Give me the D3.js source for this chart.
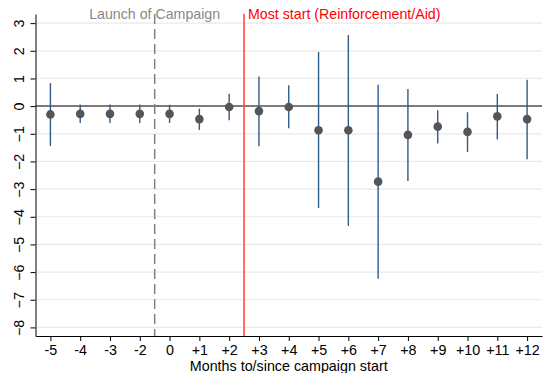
<!DOCTYPE html>
<html>
<head>
<meta charset="utf-8">
<script src="https://cdn.jsdelivr.net/npm/d3@7"></script>
<style>
  body { margin: 0; background: #fff; }
  svg { font-family: "Liberation Sans", Arial, sans-serif; }
</style>
</head>
<body>
<svg width="550" height="373"></svg>
<script>
// Months relative to campaign start (-1 is the omitted reference month)
var months = ["-5", "-4", "-3", "-2", "0", "+1", "+2", "+3", "+4", "+5", "+6", "+7", "+8", "+9", "+10", "+11", "+12"];
var estimate = [-0.30, -0.28, -0.28, -0.28, -0.28, -0.47, -0.03, -0.18, -0.03, -0.87, -0.87, -2.73, -1.04, -0.74, -0.93, -0.37, -0.47];
var ciUpper = [0.83, 0.06, 0.06, 0.06, 0.05, -0.09, 0.45, 1.07, 0.75, 1.96, 2.57, 0.77, 0.62, -0.15, -0.22, 0.44, 0.95];
var ciLower = [-1.44, -0.61, -0.61, -0.61, -0.61, -0.86, -0.51, -1.45, -0.80, -3.68, -4.33, -6.24, -2.71, -1.35, -1.66, -1.20, -1.92];
var yTicks = [3, 2, 1, 0, -1, -2, -3, -4, -5, -6, -7, -8];

// Event markers: drawn between these month labels
var launchBetween = ["-2", "0"];
var startBetween = ["+2", "+3"];

var margin = { top: 14, right: 8, bottom: 37, left: 35.5 };
var width = 550 - margin.left - margin.right;
var height = 373 - margin.top - margin.bottom;

var svg = d3.select("svg");
var g = svg.append("g")
    .attr("transform", "translate(" + margin.left + "," + margin.top + ")");

var x = d3.scalePoint()
    .domain(months)
    .range([0, width])
    .padding(0.5);

var y = d3.scaleLinear()
    .domain([-8.31, 3.33])
    .range([height, 0]);

// Gridlines
g.selectAll(".grid")
    .data(yTicks)
    .enter().append("line")
    .attr("x1", 0)
    .attr("x2", width)
    .attr("y1", function (d) { return y(d); })
    .attr("y2", function (d) { return y(d); })
    .attr("stroke", "#eaeaea")
    .attr("stroke-width", 1.2);

// Zero line
g.append("line")
    .attr("x1", 0).attr("x2", width)
    .attr("y1", y(0)).attr("y2", y(0))
    .attr("stroke", "#555")
    .attr("stroke-width", 1.5);

// Event lines
var launchX = (x(launchBetween[0]) + x(launchBetween[1])) / 2;
var startX = (x(startBetween[0]) + x(startBetween[1])) / 2;

g.append("line")
    .attr("x1", launchX).attr("x2", launchX)
    .attr("y1", 0).attr("y2", height)
    .attr("stroke", "#808080")
    .attr("stroke-width", 1.5)
    .attr("stroke-dasharray", "10,5");

g.append("line")
    .attr("x1", startX).attr("x2", startX)
    .attr("y1", 0).attr("y2", height)
    .attr("stroke", "#ff4a4a")
    .attr("stroke-width", 1.6);

// Confidence intervals
g.selectAll(".ci")
    .data(months)
    .enter().append("line")
    .attr("x1", function (d) { return x(d); })
    .attr("x2", function (d) { return x(d); })
    .attr("y1", function (d, i) { return y(ciUpper[i]); })
    .attr("y2", function (d, i) { return y(ciLower[i]); })
    .attr("stroke", "#2e5c88")
    .attr("stroke-width", 1.4);

// Point estimates
g.selectAll(".pt")
    .data(months)
    .enter().append("circle")
    .attr("cx", function (d) { return x(d); })
    .attr("cy", function (d, i) { return y(estimate[i]); })
    .attr("r", 4.3)
    .attr("fill", "#555");

// Axes
var xAxis = g.append("g")
    .attr("transform", "translate(0," + height + ")")
    .call(d3.axisBottom(x).tickSize(5).tickPadding(4).tickSizeOuter(0));
xAxis.selectAll("text").attr("font-size", 14.3).attr("fill", "#000")
    .attr("font-family", "Liberation Sans, Arial, sans-serif");
xAxis.select(".domain").attr("stroke", "#000");

var yAxis = g.append("g")
    .call(d3.axisLeft(y).tickValues(yTicks).tickSize(5).tickSizeOuter(0));
yAxis.selectAll(".tick text")
    .attr("font-size", 14.3).attr("fill", "#000")
    .attr("font-family", "Liberation Sans, Arial, sans-serif")
    .attr("text-anchor", "middle")
    .attr("transform", "translate(-17,0) rotate(-90)")
    .attr("x", 0).attr("dy", "0.35em");
yAxis.select(".domain").attr("stroke", "#000");

// Annotations
g.append("text")
    .attr("x", launchX)
    .attr("y", 5)
    .attr("text-anchor", "middle")
    .attr("font-size", 14.2)
    .attr("fill", "#888")
    .text("Launch of Campaign");

g.append("text")
    .attr("x", startX + 4)
    .attr("y", 5)
    .attr("font-size", 14.2)
    .attr("fill", "#ff0000")
    .text("Most start (Reinforcement/Aid)");

// Axis title
svg.append("text")
    .attr("x", margin.left + width / 2)
    .attr("y", 371)
    .attr("text-anchor", "middle")
    .attr("font-size", 14.3)
    .attr("fill", "#000")
    .text("Months to/since campaign start");
</script>
</body>
</html>
